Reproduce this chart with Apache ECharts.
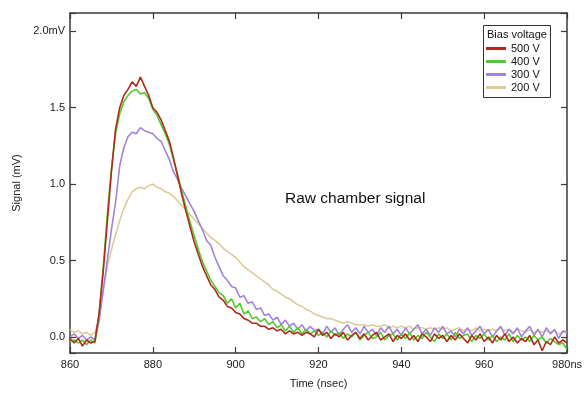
<!DOCTYPE html>
<html>
<head>
<meta charset="utf-8">
<script src="https://cdn.jsdelivr.net/npm/echarts@6/dist/echarts.min.js"></script>
<style>html,body{margin:0;padding:0;background:#fff}#c{width:585px;height:395px}</style>
</head>
<body>
<div id="c"></div>
<script>
// Time axis: samples every 1 ns from 860 to 980 ns
var timeStart = 860;
var timeStep = 1;
var xTicks = ['860', '880', '900', '920', '940', '960', '980ns'];
var yTicks = ['0.0', '0.5', '1.0', '1.5', '2.0mV'];
var legendNames = ['500 V', '400 V', '300 V', '200 V'];

var v500 = [
 -0.01,-0.04,-0.01,-0.06,-0.02,-0.04,-0.03,0.15,0.42,0.75,
 1.08,1.36,1.50,1.58,1.62,1.67,1.64,1.70,1.64,1.58,
 1.50,1.47,1.42,1.35,1.28,1.17,1.05,0.93,0.82,0.72,
 0.62,0.54,0.46,0.40,0.34,0.31,0.26,0.24,0.20,0.19,
 0.16,0.15,0.12,0.11,0.09,0.09,0.07,0.07,0.05,0.06,
 0.04,0.05,0.02,0.04,0.02,0.03,0.01,0.03,0.02,0.00,
 0.05,0.01,0.03,-0.01,0.02,0.00,0.03,-0.02,0.01,0.03,
 -0.01,0.02,-0.02,0.01,0.03,-0.02,0.00,0.02,-0.03,0.01,
 -0.01,0.02,-0.02,0.01,-0.03,0.02,0.00,-0.03,0.02,-0.01,
 0.01,-0.03,0.01,-0.02,0.02,-0.01,-0.04,0.01,-0.02,0.02,
 -0.03,0.00,-0.04,0.01,-0.02,0.02,-0.03,0.00,-0.04,-0.01,
 -0.03,0.01,-0.05,-0.02,-0.09,-0.03,-0.05,0.00,-0.04,-0.02,
 -0.04
];
var v400 = [
 -0.03,-0.02,-0.04,-0.02,-0.05,-0.02,-0.04,0.14,0.45,0.80,
 1.10,1.33,1.46,1.54,1.58,1.61,1.62,1.59,1.60,1.56,
 1.49,1.45,1.39,1.33,1.26,1.16,1.06,0.95,0.85,0.75,
 0.66,0.57,0.49,0.43,0.37,0.33,0.29,0.27,0.22,0.25,
 0.19,0.22,0.15,0.17,0.12,0.13,0.10,0.12,0.08,0.10,
 0.06,0.08,0.04,0.07,0.03,0.06,0.02,0.05,0.02,0.04,
 0.01,0.03,0.00,0.04,0.01,0.03,-0.01,0.02,0.00,0.03,
 -0.02,0.01,0.03,-0.01,0.00,0.03,-0.02,0.01,0.02,-0.02,
 0.02,-0.01,0.03,-0.02,0.01,-0.01,0.03,0.00,-0.03,0.02,
 -0.01,0.02,-0.02,0.03,-0.01,0.01,0.02,-0.03,0.01,-0.01,
 0.02,-0.02,0.01,-0.03,0.00,-0.02,0.02,-0.03,0.01,-0.02,
 0.00,-0.03,0.01,-0.02,0.00,-0.04,-0.01,-0.03,-0.05,-0.04,
 -0.08
];
var v300 = [
 0.00,0.02,-0.01,0.01,-0.02,0.00,-0.02,0.10,0.30,0.50,
 0.70,0.88,1.12,1.24,1.31,1.34,1.33,1.37,1.35,1.34,
 1.33,1.30,1.28,1.22,1.16,1.08,1.03,0.97,0.92,0.87,
 0.82,0.76,0.70,0.63,0.60,0.52,0.46,0.40,0.37,0.33,
 0.32,0.26,0.27,0.22,0.23,0.18,0.19,0.14,0.15,0.11,
 0.13,0.08,0.11,0.07,0.09,0.05,0.08,0.04,0.07,0.04,
 0.05,0.02,0.07,0.03,0.06,0.01,0.05,0.08,0.03,0.06,
 0.02,0.07,0.03,0.05,0.01,0.06,0.03,0.07,0.02,0.05,
 0.01,0.06,0.02,0.05,0.08,0.02,0.05,0.01,0.06,0.03,
 0.07,0.02,0.04,0.00,0.05,0.02,0.06,0.01,0.04,0.07,
 0.02,0.05,0.00,0.04,0.07,0.01,0.05,0.02,0.06,0.00,
 0.04,0.07,0.01,0.05,0.00,0.06,0.02,0.05,-0.01,0.04,
 0.03
];
var v200 = [
 0.05,0.03,0.04,0.02,0.03,0.01,0.03,0.12,0.30,0.46,
 0.57,0.67,0.76,0.84,0.90,0.95,0.97,0.98,0.97,0.99,
 1.00,0.98,0.97,0.95,0.94,0.92,0.89,0.86,0.83,0.80,
 0.77,0.74,0.71,0.68,0.65,0.63,0.61,0.58,0.56,0.54,
 0.52,0.49,0.46,0.44,0.42,0.40,0.38,0.36,0.34,0.31,
 0.30,0.28,0.26,0.25,0.23,0.21,0.20,0.18,0.17,0.15,
 0.14,0.13,0.12,0.12,0.11,0.10,0.09,0.10,0.09,0.08,
 0.08,0.08,0.07,0.08,0.07,0.07,0.08,0.06,0.07,0.06,
 0.07,0.06,0.07,0.05,0.06,0.06,0.05,0.06,0.05,0.06,
 0.05,0.06,0.04,0.05,0.06,0.04,0.05,0.04,0.06,0.04,
 0.05,0.04,0.05,0.04,0.06,0.04,0.05,0.03,0.05,0.04,
 0.03,0.05,0.03,0.04,0.03,0.04,0.03,0.04,0.02,0.03,
 0.03
];

function pairs(arr) {
  return arr.map(function (v, i) { return [timeStart + i * timeStep, v]; });
}

var colors = ['#b02a1e', '#52cc2c', '#a283da', '#ddcc98'];
var font = 'Liberation Sans, Arial, Helvetica, sans-serif';
var axisColor = '#3a3a3a';

var chart = echarts.init(document.getElementById('c'), null, {renderer: 'canvas'});

function yLabel(v) {
  var idx = Math.round(v / 0.5);
  if (Math.abs(v - idx * 0.5) > 1e-6 || idx < 0 || idx >= yTicks.length) return '';
  return yTicks[idx];
}
function xLabel(v) {
  var idx = Math.round((v - 860) / 20);
  return xTicks[idx] || '';
}

var series = [v500, v400, v300, v200].map(function (arr, k) {
  return {
    name: legendNames[k],
    type: 'line',
    data: pairs(arr),
    showSymbol: false,
    symbol: 'none',
    smooth: false,
    lineStyle: {color: colors[k], width: 1.6},
    itemStyle: {color: colors[k]},
    z: 10 - k
  };
});
series.reverse();

chart.setOption({
  animation: false,
  backgroundColor: '#ffffff',
  grid: {left: 70, right: 13, top: 13, bottom: 42, containLabel: false},
  xAxis: [{
    type: 'value', min: 860, max: 980, interval: 20, position: 'bottom',
    name: 'Time (nsec)', nameLocation: 'middle', nameGap: 25,
    nameTextStyle: {fontFamily: font, fontSize: 11, color: '#222'},
    axisLine: {show: true, onZero: false, lineStyle: {color: axisColor, width: 1.5}},
    axisTick: {show: true, inside: true, length: 6, lineStyle: {color: axisColor, width: 1.2}},
    axisLabel: {formatter: xLabel, fontFamily: font, fontSize: 11, color: '#222', margin: 6, showMaxLabel: true, showMinLabel: true},
    splitLine: {show: false}
  }, {
    type: 'value', min: 860, max: 980, interval: 20, position: 'top',
    axisLine: {show: true, onZero: false, lineStyle: {color: axisColor, width: 1.5}},
    axisTick: {show: true, inside: true, length: 6, lineStyle: {color: axisColor, width: 1.2}},
    axisLabel: {show: false},
    splitLine: {show: false}
  }],
  yAxis: [{
    type: 'value', min: -0.105, max: 2.12, splitNumber: 5, position: 'left',
    name: 'Signal (mV)', nameLocation: 'middle', nameGap: 45, nameRotate: 90,
    nameTextStyle: {fontFamily: font, fontSize: 11, color: '#222'},
    axisLine: {show: true, onZero: false, lineStyle: {color: axisColor, width: 1.5}},
    axisTick: {show: true, inside: true, length: 6, lineStyle: {color: axisColor, width: 1.2}},
    axisLabel: {formatter: yLabel, fontFamily: font, fontSize: 11, color: '#222', margin: 5, showMaxLabel: true, showMinLabel: true},
    splitLine: {show: false}
  }, {
    type: 'value', min: -0.105, max: 2.12, splitNumber: 5, position: 'right',
    axisLine: {show: true, onZero: false, lineStyle: {color: axisColor, width: 1.5}},
    axisTick: {show: true, inside: true, length: 6, lineStyle: {color: axisColor, width: 1.2}},
    axisLabel: {show: false},
    splitLine: {show: false}
  }],
  legend: {
    data: legendNames,
    orient: 'vertical',
    left: 486, top: 43,
    itemWidth: 20, itemHeight: 3, itemGap: 2,
    icon: 'rect',
    padding: 0,
    z: 120, zlevel: 0,
    textStyle: {fontFamily: font, fontSize: 11, color: '#111'},
    selectedMode: false
  },
  graphic: [
    {type: 'rect', left: 483, top: 25, shape: {width: 67, height: 72},
     style: {fill: '#fff', stroke: '#333', lineWidth: 1}, z: 50},
    {type: 'text', left: 487, top: 29, style: {text: 'Bias voltage', font: '11px ' + font, fill: '#111'}, z: 51},
    {type: 'text', left: 285, top: 191, style: {text: 'Raw chamber signal', font: '15.5px ' + font, fill: '#111'}, z: 51}
  ],
  series: series
});
</script>
</body>
</html>
